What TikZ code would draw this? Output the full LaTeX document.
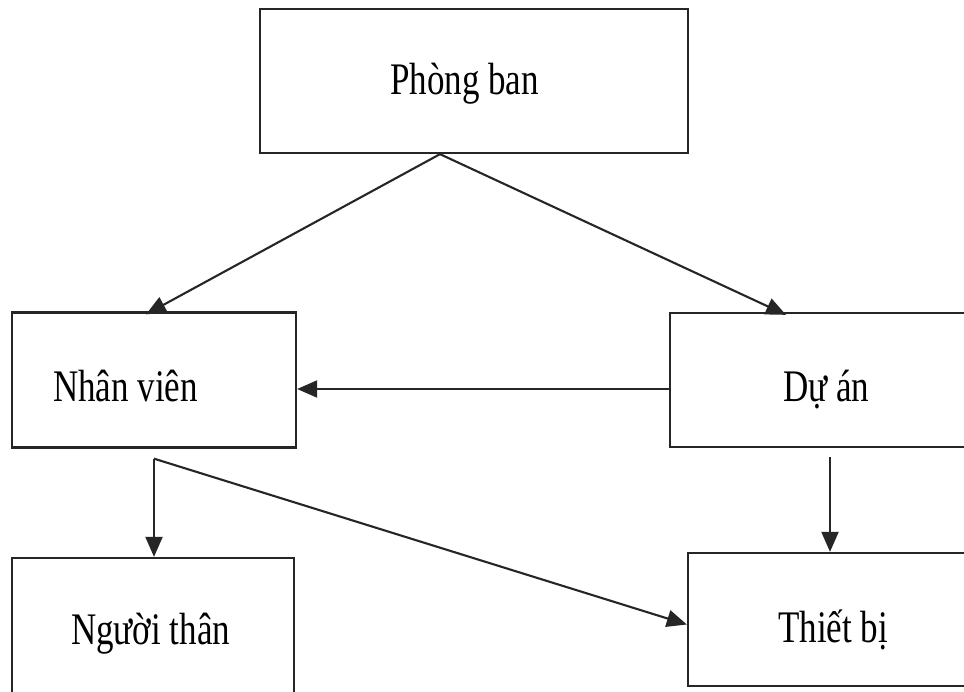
\documentclass[tikz,border=0pt]{standalone}
\usepackage{fontspec}
\setmainfont{Liberation Serif}
\usetikzlibrary{arrows.meta}

% tall, narrow lettering
\newcommand\stretchtxt[1]{\scalebox{1}[1.29]{#1}}

\tikzset{
  entity/.style={draw=black!85, line width=2.3pt, rectangle, inner sep=0pt},
  caption/.style={inner sep=0pt, anchor=base west,
    font=\fontsize{35}{40}\selectfont},
  conn/.style={draw=black!85, line width=2.1pt,
    -{Triangle[length=20pt,width=17pt]}},
}

\begin{document}
\begin{tikzpicture}[x=1pt,y=-1pt]
  \useasboundingbox[fill=white] (0,0) rectangle (964,692);
  \clip (0,0) rectangle (964,692);

  % entity boxes
  \node[entity, minimum width=428pt, minimum height=144pt] (pb) at (474,81) {};
  \node[entity, minimum width=284pt, minimum height=135pt] (nv) at (154,380) {};
  \node[entity, minimum width=320pt, minimum height=134pt] (dy) at (830,380) {};
  \node[entity, minimum width=282pt, minimum height=162pt] (nt) at (153,639) {};
  \node[entity, minimum width=284pt, minimum height=133pt] (tb) at (830,619.5) {};

  % names
  \node[caption] (tpb) at (390,95)  {\stretchtxt{Phòng ban}};
  \node[caption] (tnv) at (53,402)  {\stretchtxt{Nhân viên}};
  \node[caption] (tdy) at (783,402) {\stretchtxt{Dự án}};
  \node[caption] (tnt) at (71,644)  {\stretchtxt{Người thân}};
  \node[caption] (ttb) at (778,642) {\stretchtxt{Thiết bị}};

  % connectors
  \coordinate (pbout) at ([xshift=-34pt]pb.south);
  \draw[conn] (pbout) -- ([xshift=-8pt,yshift=-3pt]nv.north);
  \draw[conn] (pbout) -- ([xshift=-44pt,yshift=-3pt]dy.north);
  \draw[conn] ([yshift=-9pt]dy.west) -- ([yshift=-9pt]nv.east);

  \coordinate (nvout) at ([yshift=-10pt]nv.south);
  \draw[conn] (nvout) -- (nvout |- nt.north);
  \draw[conn] (nvout) -- ([yshift=-5pt]tb.west);

  \draw[conn] ([yshift=-9pt]dy.south) -- (tb.north);
\end{tikzpicture}
\end{document}
